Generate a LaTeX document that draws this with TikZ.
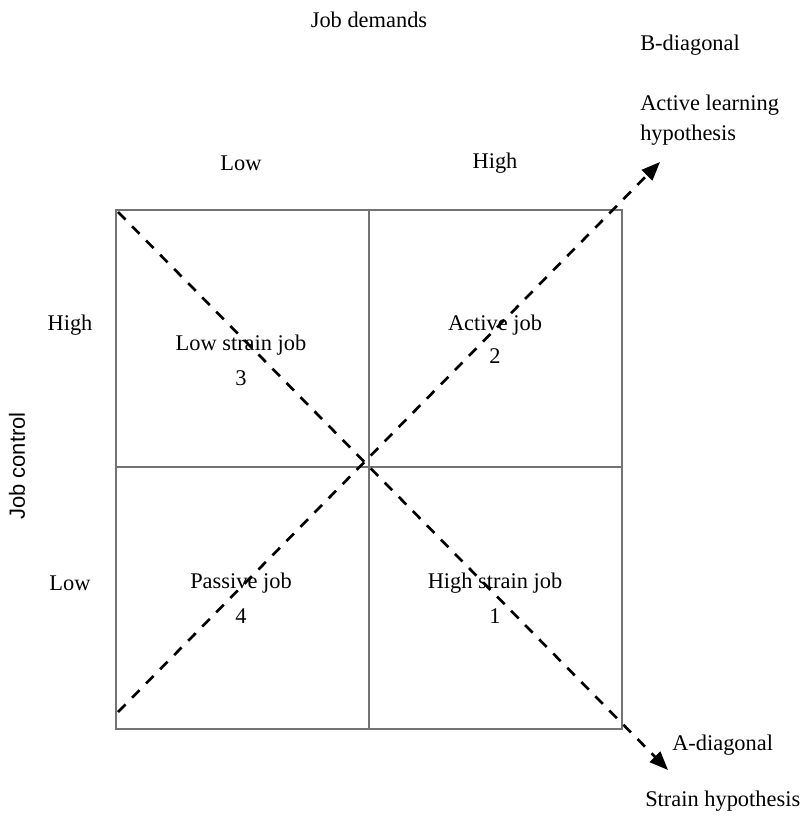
\documentclass[tikz,border=0pt]{standalone}
\usepackage{fontspec}
\setmainfont{Liberation Serif}
\newfontfamily\labelsans{Liberation Sans}
\usetikzlibrary{arrows.meta}

\tikzset{
  txt/.style={inner sep=0pt, font=\fontsize{16.8}{22.5}\selectfont},
  grid/.style={draw=black!55, line width=1.3pt},
  diag/.style={dashed, dash pattern=on 8pt off 7pt, line width=2pt,
    -{Triangle[length=14pt, width=11pt]}}
}

\begin{document}
\begin{tikzpicture}[x=0.75pt, y=-0.75pt]
      \useasboundingbox (0,0) rectangle (805,816);

      % square and quadrant borders
      \coordinate (tl) at (116,210);
      \coordinate (tr) at (622,210);
      \coordinate (bl) at (116,729);
      \coordinate (br) at (622,729);
      \coordinate (tm) at (369,210);
      \coordinate (bm) at (369,729);
      \coordinate (lm) at (116,467);
      \coordinate (rm) at (622,467);
      \draw[grid] (tl) rectangle (br);
      \draw[grid] (tm) -- (bm);
      \draw[grid] (lm) -- (rm);

      % axis labels
      \node[txt] (demands) at (369,20) {Job demands};
      \node[txt] (dlow) at (241,163) {Low};
      \node[txt] (dhigh) at (495,163) {High};
      \node[txt] (chigh) at (70,325) {High};
      \node[txt] (clow) at (70,583) {Low};
      \node[txt, rotate=90, font=\labelsans\fontsize{16.5}{18}\selectfont] (control) at (17,466) {Job control};

      % quadrants
      \node[txt] (lowstrain) at (241,345) {Low strain job};
      \node[txt] (q3) at (241,378) {3};
      \node[txt] (active) at (495,325) {Active job};
      \node[txt] (q2) at (495,356) {2};
      \node[txt] (passive) at (241,583) {Passive job};
      \node[txt] (q4) at (241,616) {4};
      \node[txt] (highstrain) at (495,583) {High strain job};
      \node[txt] (q1) at (495,616) {1};

      % diagonals
      \coordinate (astart) at (118,212);
      \coordinate (aend) at (668,770);
      \coordinate (bstart) at (118,712);
      \coordinate (bend) at (660,162);
      \draw[diag] (astart) -- (aend);
      \draw[diag] (bstart) -- (bend);

      \node[txt, anchor=west] (bdiag) at (640,45) {B-diagonal};
      \node[txt, anchor=west, align=left] (bhyp) at (640,120) {Active learning\\hypothesis};
      \node[txt, anchor=west] (adiag) at (672,745) {A-diagonal};
      \node[txt, anchor=west] (ahyp) at (645,801) {Strain hypothesis};
    \end{tikzpicture}
\end{document}
